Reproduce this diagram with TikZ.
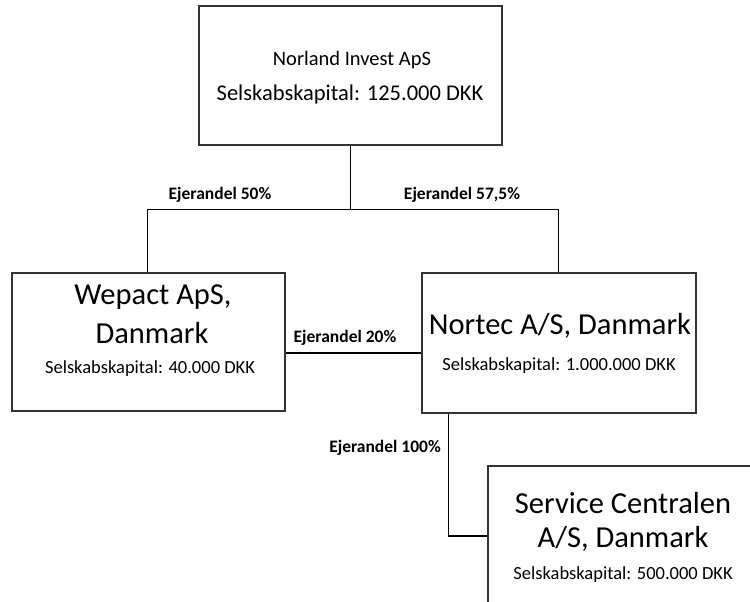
\documentclass[tikz,border=0pt]{standalone}
\usepackage{fontspec}
\setmainfont{Carlito}
\begin{document}
\begin{tikzpicture}[x=1pt,y=-1pt,
  box/.style={draw=black!80,line width=1.1pt,fill=white,rectangle,inner sep=0pt},
  conn/.style={draw=black,line width=1.6pt},
  txt/.style={inner sep=0pt,text=black},
  lbl/.style={inner sep=0pt,text=black,font=\bfseries\fontsize{17.5}{20}\selectfont}]
\clip (0,0) rectangle (750,602);
\fill[white] (0,0) rectangle (750,602);
% boxes
\node[box,minimum width=303pt,minimum height=139pt] (top) at (350.5,75.5) {};
\node[box,minimum width=273pt,minimum height=138pt] (wep) at (148.5,342) {};
\node[box,minimum width=274pt,minimum height=140pt] (nor) at (559,343) {};
\node[box,minimum width=272pt,minimum height=140pt] (svc) at (624,536) {};
% connectors
\draw[conn] (top.south) -- ++(0,64) coordinate (j);
\draw[conn] (j) -| ([xshift=136pt]wep.north west);
\draw[conn] (j) -| ([xshift=137pt]nor.north west);
\draw[conn] ([yshift=-11pt]wep.east) -- ([yshift=-10pt]nor.west);
\draw[conn] ([xshift=27pt]nor.south west) |- (svc.west);
% texts
\node[txt,font=\fontsize{20.5}{24}\selectfont] (t1) at (352,60) {Norland Invest ApS};
\node[txt,font=\fontsize{22.5}{26}\selectfont] (t2) at (350,95) {Selskabskapital: 125.000 DKK};
\node[txt,font=\fontsize{30.5}{36}\selectfont] (w1) at (153,297) {Wepact ApS,};
\node[txt,font=\fontsize{30.5}{36}\selectfont] (w2) at (152,333) {Danmark};
\node[txt,font=\fontsize{18.5}{22}\selectfont] (w3) at (150,369) {Selskabskapital: 40.000 DKK};
\node[txt,font=\fontsize{30.5}{36}\selectfont] (n1) at (560,326) {Nortec A/S, Danmark};
\node[txt,font=\fontsize{18.5}{22}\selectfont] (n2) at (559,366) {Selskabskapital: 1.000.000 DKK};
\node[txt,font=\fontsize{30.5}{36}\selectfont] (s1) at (623,503) {Service Centralen};
\node[txt,font=\fontsize{30.5}{36}\selectfont] (s2) at (623,539) {A/S, Danmark};
\node[txt,font=\fontsize{18.5}{22}\selectfont] (s3) at (623,575) {Selskabskapital: 500.000 DKK};
% labels
\node[lbl] (l1) at (220,195) {Ejerandel 50\%};
\node[lbl] (l2) at (462,195) {Ejerandel 57,5\%};
\node[lbl] (l3) at (345,338) {Ejerandel 20\%};
\node[lbl] (l4) at (385,448) {Ejerandel 100\%};
\end{tikzpicture}
\end{document}
